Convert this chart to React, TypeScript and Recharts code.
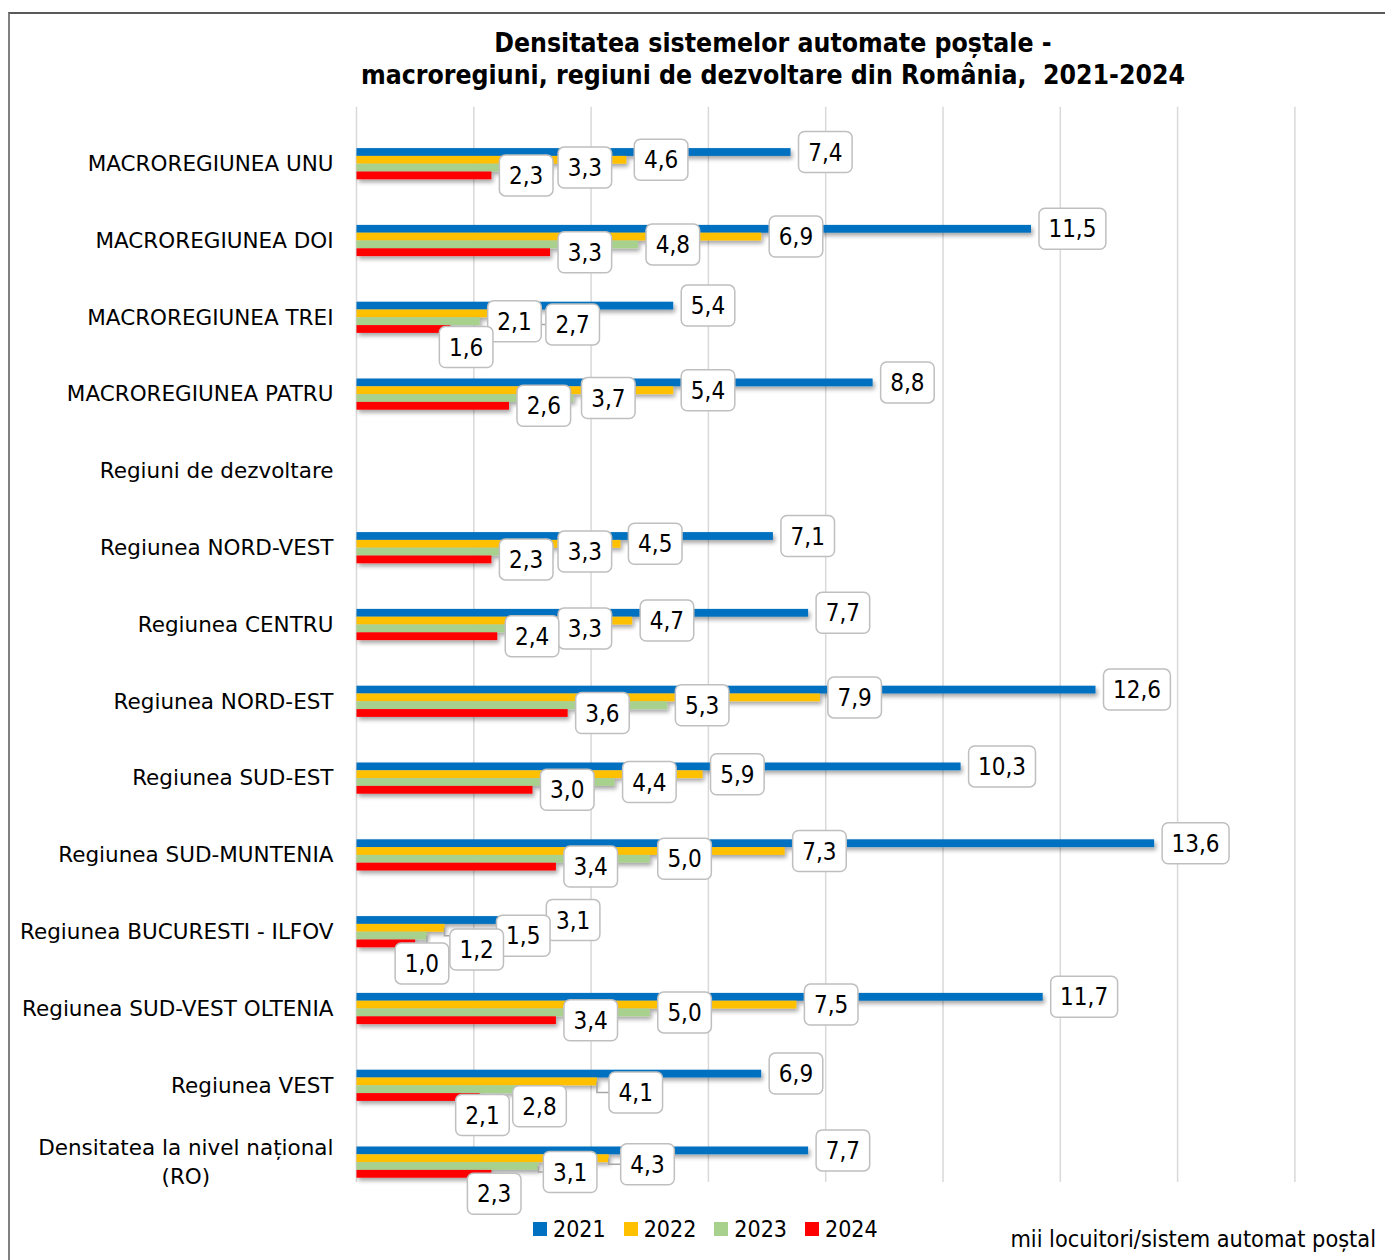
import React from 'react';
import { BarChart, Bar, XAxis, YAxis, CartesianGrid, LabelList } from 'recharts';

const CATEGORIES = [
  'MACROREGIUNEA UNU',
  'MACROREGIUNEA DOI',
  'MACROREGIUNEA TREI',
  'MACROREGIUNEA PATRU',
  'Regiuni de dezvoltare',
  'Regiunea NORD-VEST',
  'Regiunea CENTRU',
  'Regiunea NORD-EST',
  'Regiunea SUD-EST',
  'Regiunea SUD-MUNTENIA',
  'Regiunea BUCURESTI - ILFOV',
  'Regiunea SUD-VEST OLTENIA',
  'Regiunea VEST',
  'Densitatea la nivel național (RO)',
];

const Y2021 = [7.4, 11.5, 5.4, 8.8, null, 7.1, 7.7, 12.6, 10.3, 13.6, 3.1, 11.7, 6.9, 7.7];
const Y2022 = [4.6, 6.9, 2.7, 5.4, null, 4.5, 4.7, 7.9, 5.9, 7.3, 1.5, 7.5, 4.1, 4.3];
const Y2023 = [3.3, 4.8, 2.1, 3.7, null, 3.3, 3.3, 5.3, 4.4, 5.0, 1.2, 5.0, 2.8, 3.1];
const Y2024 = [2.3, 3.3, 1.6, 2.6, null, 2.3, 2.4, 3.6, 3.0, 3.4, 1.0, 3.4, 2.1, 2.3];

const X_TICKS = [0, 2, 4, 6, 8, 10, 12, 14, 16];

const SERIES = [
  { key: '2021', color: '#0070C0' },
  { key: '2022', color: '#FFC000' },
  { key: '2023', color: '#A9D18E' },
  { key: '2024', color: '#FF0000' },
];

// labels that Excel pushed away from the bar end (series -> category -> [dx, dy])
const LABEL_NUDGE: Record<string, Record<string, [number, number]>> = {
  '2022': {
    'MACROREGIUNEA TREI': [23, 11],
    'Regiunea BUCURESTI - ILFOV': [44, 8],
    'Regiunea VEST': [4, 11],
    'Densitatea la nivel național (RO)': [4, 6],
  },
  '2023': {
    'Regiunea BUCURESTI - ILFOV': [15, 14],
    'Regiunea VEST': [-16, 17],
    'Densitatea la nivel național (RO)': [-3, 6],
  },
  '2024': {
    'MACROREGIUNEA TREI': [-19, 18],
    'Regiunea BUCURESTI - ILFOV': [-28, 20],
    'Regiunea VEST': [-32, 18],
    'Densitatea la nivel național (RO)': [-32, 20],
  },
};

const TICK_LINES: Record<string, string[]> = {
  'Densitatea la nivel național (RO)': ['Densitatea la nivel național', '(RO)'],
};

const data = CATEGORIES.map((name, i) => ({
  name,
  '2021': Y2021[i],
  '2022': Y2022[i],
  '2023': Y2023[i],
  '2024': Y2024[i],
}));

const FONT = "'DejaVu Sans', sans-serif";
const FONT_NARROW = "'DejaVu Sans Condensed', 'DejaVu Sans', sans-serif";
const TICK_SIZE = 21.5;

let ctx: CanvasRenderingContext2D | null = null;
const measure = (text: string, size: number) => {
  if (!ctx) ctx = document.createElement('canvas').getContext('2d');
  if (!ctx) return text.length * size * 0.6;
  ctx.font = `${size}px 'DejaVu Sans', sans-serif`;
  return ctx.measureText(text).width;
};

function CategoryTick({ x, y, payload }: any) {
  const lines = TICK_LINES[payload.value] ?? [payload.value];
  const w = Math.max(...lines.map((l) => measure(l, TICK_SIZE)));
  const cx = x - w / 2;
  const lh = 29;
  const y0 = y - ((lines.length - 1) * lh) / 2;
  return (
    <g>
      {lines.map((l, i) => (
        <text
          key={l}
          x={lines.length > 1 ? cx : x}
          y={y0 + i * lh + 7.5}
          textAnchor={lines.length > 1 ? 'middle' : 'end'}
          fontSize={TICK_SIZE}
          fontFamily={FONT}
          fill="#000"
        >
          {l}
        </text>
      ))}
    </g>
  );
}

const fmt = (v: number) => v.toFixed(1).replace('.', ',');

const makeLabel = (seriesKey: string) => (props: any) => {
  const { x, y, width, height, value } = props;
  const row = data.find((d) => d.name === value);
  const v = row ? (row as any)[seriesKey] : null;
  if (v == null) return null;
  const text = fmt(Number(v));
  const digits = text.replace(',', '').length;
  const boxW = digits * 13.3 + 27;
  const boxH = 41;
  const end = Number(x) + Number(width);
  const barCy = Number(y) + Number(height) / 2;
  const [dx, dy] = LABEL_NUDGE[seriesKey]?.[value] ?? [0, 0];
  const left = end + 8 + dx;
  const cy = barCy + dy;
  const leader = (dx !== 0 || dy !== 0) && left > end + 2;
  return (
    <g>
      {leader && (
        <polyline
          points={`${end},${barCy} ${end},${cy} ${left},${cy}`}
          fill="none"
          stroke="#a6a6a6"
          strokeWidth={1.5}
        />
      )}
      <rect
        x={left}
        y={cy - boxH / 2}
        width={boxW}
        height={boxH}
        rx={6}
        fill="#fff"
        stroke="#bfbfbf"
        strokeWidth={1.5}
      />
      <text
        x={left + boxW / 2}
        y={cy + 8.5}
        textAnchor="middle"
        fontSize={24}
        fontFamily={FONT_NARROW}
        fill="#000"
      >
        {text}
      </text>
    </g>
  );
};

const ShadowBar = (props: any) => {
  const { x, y, width, height, fill } = props;
  if (!width || width <= 0) return null;
  return <rect x={x} y={y} width={width} height={height} fill={fill} filter="url(#barShadow)" />;
};

const GridLine = (props: any) => {
  const { x1, x2, y1, y2 } = props;
  return <line x1={x1} x2={x2} y1={y1} y2={y2} stroke="#d9d9d9" strokeWidth={1.5} />;
};

export default function App() {
  return (
    <div
      style={{
        position: 'absolute',
        left: 0,
        top: 0,
        width: 1385,
        height: 1260,
        overflow: 'hidden',
        background: '#fff',
        fontFamily: FONT_NARROW,
        color: '#000',
      }}
    >
      <div
        style={{
          position: 'absolute',
          left: 8,
          top: 12,
          width: 1420,
          height: 1300,
          borderTop: '2px solid #595959',
          borderLeft: '2px solid #808080',
        }}
      />
      <div
        style={{
          position: 'absolute',
          left: 273,
          width: 1000,
          top: 27,
          textAlign: 'center',
          fontWeight: 'bold',
          fontSize: 26.4,
          lineHeight: '32px',
        }}
      >
        Densitatea sistemelor automate poștale -<br />
        macroregiuni, regiuni de dezvoltare din România,&nbsp; 2021-2024
      </div>

      <div style={{ position: 'absolute', left: 0, top: 0 }}>
        <BarChart
          width={1385}
          height={1260}
          data={data}
          layout="vertical"
          margin={{ top: 125.1, bottom: 59.7, left: 16.5, right: 90.1 }}
          barGap={0}
          barSize={7.8}
        >
          <defs>
            <filter id="barShadow" x="-5%" y="-50%" width="110%" height="250%">
              <feDropShadow dx="2" dy="3" stdDeviation="2" floodColor="#000" floodOpacity="0.35" />
            </filter>
          </defs>
          <CartesianGrid horizontal={false} vertical={GridLine} y={106.7} height={1075.3} />
          <XAxis type="number" domain={[0, 16]} ticks={X_TICKS} hide />
          <YAxis
            type="category"
            dataKey="name"
            width={340}
            axisLine={false}
            tickLine={false}
            tickSize={0}
            tickMargin={23}
            interval={0}
            tick={<CategoryTick />}
          />
          {SERIES.map((s) => (
            <Bar
              key={s.key}
              dataKey={s.key}
              fill={s.color}
              shape={<ShadowBar />}
              isAnimationActive={false}
            >
              <LabelList dataKey="name" content={makeLabel(s.key)} />
            </Bar>
          ))}
        </BarChart>
      </div>

      <div
        style={{
          position: 'absolute',
          left: 533,
          top: 1214,
          display: 'flex',
          alignItems: 'center',
          fontSize: 23,
          height: 30,
        }}
      >
        {SERIES.map((s) => (
          <div key={s.key} style={{ display: 'flex', alignItems: 'center', marginRight: 18 }}>
            <span style={{ width: 14, height: 14, background: s.color, marginRight: 6 }} />
            <span>{s.key}</span>
          </div>
        ))}
      </div>

      <div
        style={{
          position: 'absolute',
          right: 9,
          top: 1224,
          fontSize: 23.3,
          lineHeight: '30px',
        }}
      >
        mii locuitori/sistem automat poștal
      </div>
    </div>
  );
}
